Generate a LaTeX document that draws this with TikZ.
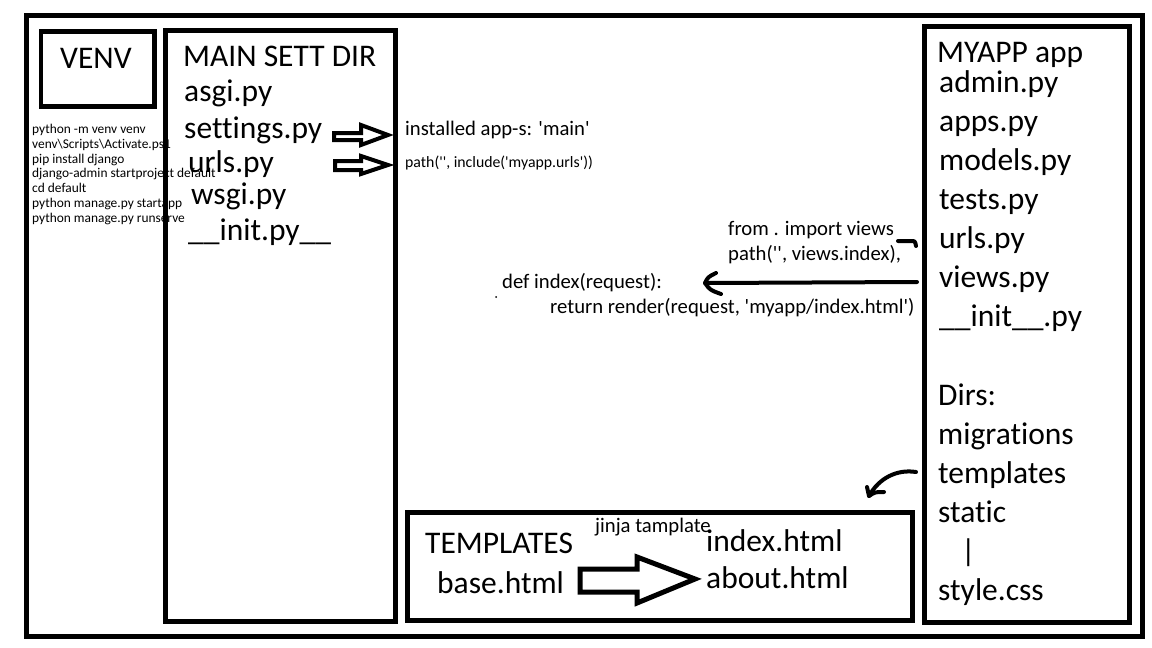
\documentclass[tikz,border=0pt]{standalone}
\usepackage{fontspec}
\setmainfont{Carlito}[Ligatures={TeXOff,CommonOff}]
\begin{document}
\begin{tikzpicture}[x=1pt,y=-1pt,
  box/.style={draw, line width=5pt},
  big/.style={anchor=base west, inner sep=0pt, font=\fontsize{31.5}{36}\selectfont},
  mid/.style={anchor=base west, inner sep=0pt, font=\fontsize{20.7}{24}\selectfont},
  sml/.style={anchor=base west, inner sep=0pt, font=\fontsize{15.8}{18}\selectfont},
  cmd/.style={anchor=base west, inner sep=0pt, font=\fontsize{13.4}{15}\selectfont},
  blockarrow/.style={draw, line width=4pt, line join=miter, fill=white},
  pen/.style={draw, line width=4pt, line cap=round, line join=round}]
\useasboundingbox (0,0) rectangle (1152,648);
\fill[white] (0,0) rectangle (1152,648);

% frames
\draw[box] (26.5,15.5) rectangle (1142,636);
\draw[box, line width=4.5pt] (41,31.3) rectangle (154.7,106.3);
\draw[box] (165.5,30.5) rectangle (395.5,621);
\draw[box] (924.5,26.5) rectangle (1129.5,622);
\draw[box] (407.5,512) rectangle (912,620);

% VENV
\node[big] (venv) at (60,68) {VENV};
\node[cmd] (c1) at (32,133) {python -m venv venv};
\node[cmd] (c2) at (32,148) {venv\textbackslash Scripts\textbackslash Activate.ps1};
\node[cmd] (c3) at (32,163) {pip install django};
\node[cmd] (c4) at (32,177.7) {django-admin startproject default};
\node[cmd] (c5) at (32,192.5) {cd default};
\node[cmd] (c6) at (32,207.5) {python manage.py startapp};
\node[cmd] (c7) at (32,222) {python manage.py runserve};

% MAIN SETT DIR
\node[big] (main) at (183,66) {MAIN SETT DIR};
\node[big] (asgi) at (184,101) {asgi.py};
\node[big] (settings) at (184,138) {settings.py};
\node[big] (urls) at (188,172) {urls.py};
\node[big] (wsgi) at (191,204.5) {wsgi.py};
\node[big] (initm) at (188,240) {\_\_init.py\_\_};

% notes
\node[mid] (installed) at (405,135) {installed app-s: 'main'};
\node[sml] (include) at (405,167) {path('', include('myapp.urls'))};

% block arrows
\coordinate (sa) at (334,136.5);
\draw[blockarrow] (sa) ++(0,-3.5) -- ++(27,0) -- ++(0,-8) -- (388,135) -- (361,145) -- ++(0,-5) -- ++(-27,0) -- cycle;
\coordinate (ua) at (335,165.5);
\draw[blockarrow] (ua) ++(0,-4.5) -- ++(26,0) -- ++(0,-5) -- (388,165) -- (361,174) -- ++(0,-4) -- ++(-26,0) -- cycle;

% MYAPP
\node[big] (myapp) at (937,62) {MYAPP app};
\node[big] (admin) at (939,92) {admin.py};
\node[big] (apps) at (939,131) {apps.py};
\node[big] (models) at (939,170) {models.py};
\node[big] (tests) at (939,209) {tests.py};
\node[big] (urlsa) at (939,248) {urls.py};
\node[big] (views) at (939,287) {views.py};
\node[big] (inita) at (939,326) {\_\_init\_\_.py};
\node[big] (dirs) at (938,405) {Dirs:};
\node[big] (migr) at (938,444) {migrations};
\node[big] (tmpl) at (938,483) {templates};
\node[big] (static) at (938,522) {static};
\node[big] (bar) at (961,561) {|};
\node[big] (style) at (938,600) {style.css};

% views notes
\node[mid] (from) at (728,235) {from . import views};
\node[mid] (pathv) at (728,260) {path('', views.index),};
\node[mid] (def) at (502,288) {def index(request):};
\node[mid] (ret) at (550,313) {return render(request, 'myapp/index.html')};
\fill (496,297) circle (1pt);

% connectors
\coordinate (brS) at (898,241);
\coordinate (brE) at (916,246);
\draw[pen] (brS) -- (911,241) .. controls (915,241) .. (brE);
\coordinate (vS) at (917,282);
\coordinate (vT) at (705,283);
\draw[pen] (vS) -- (vT);
\draw[pen] (716,273) .. controls (708,277) .. (vT) .. controls (710,290) .. (721,294);

\coordinate (tS) at (916,472);
\coordinate (tT) at (869,496);
\draw[pen] (tS) .. controls (897,469) and (879,478) .. (tT);
\draw[pen] (867,487) -- (tT) .. controls (875,492) .. (884,492);

% TEMPLATES
\node[big] (templates) at (425,553) {TEMPLATES};
\node[big] (base) at (437,593) {base.html};
\node[mid] (jinja) at (595,532) {jinja tamplate};
\node[big] (index) at (706,551) {index.html};
\node[big] (about) at (706,588) {about.html};
\coordinate (ba) at (580,580.5);
\draw[blockarrow, line width=5pt] (ba) ++(0,-11.5) -- ++(57,0) -- ++(0,-12) -- (695,579) -- (637,603) -- ++(0,-11) -- ++(-57,0) -- cycle;
\end{tikzpicture}
\end{document}
